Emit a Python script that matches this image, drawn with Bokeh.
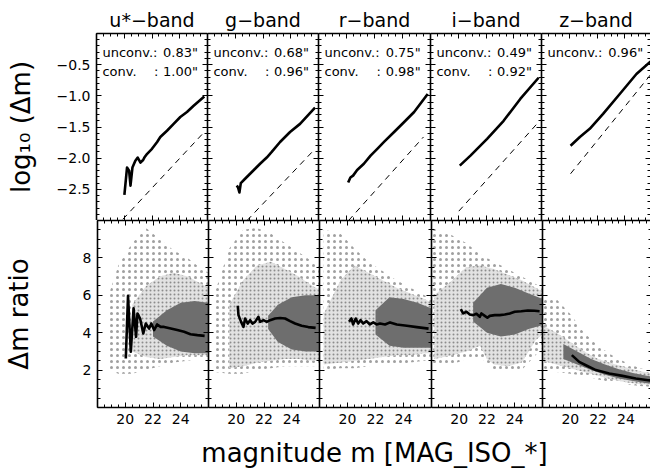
from bokeh.plotting import figure
from bokeh.models import FixedTicker, LinearAxis, Range1d, Label
from bokeh.layouts import column, row
from bokeh.embed import file_html
from bokeh.resources import INLINE

# ---------------- data ----------------
band_titles = ["u*−band", "g−band", "r−band", "i−band", "z−band"]
seeing_unconv = ['0.83"', '0.68"', '0.75"', '0.49"', '0.96"']
seeing_conv = ['1.00"', '0.96"', '0.98"', '0.92"', None]

# top row: log10(dm), solid (measured) and dashed (expected)
u_top_mag = [20.01, 20.2, 20.35, 20.45, 20.59, 20.8, 20.97, 21.17, 21.36, 21.45, 21.65, 22.0, 22.37, 22.6, 23.08, 23.56, 24.04, 24.52, 25.0, 25.77]
u_top_val = [-2.59, -2.15, -2.2, -2.44, -2.15, -2.04, -1.99, -2.07, -2.03, -1.99, -1.93, -1.85, -1.74, -1.66, -1.56, -1.45, -1.34, -1.26, -1.16, -1.01]
g_top_mag = [20.11, 20.2, 20.3, 20.4, 20.71, 21.07, 21.43, 21.79, 22.27, 22.63, 23.23, 23.95, 24.67, 25.75]
g_top_val = [-2.44, -2.47, -2.55, -2.4, -2.33, -2.25, -2.17, -2.09, -1.99, -1.9, -1.74, -1.58, -1.45, -1.19]
r_top_mag = [20.12, 20.28, 20.47, 20.76, 21.24, 21.72, 22.2, 22.68, 23.4, 24.12, 24.83, 25.8]
r_top_val = [-2.39, -2.31, -2.28, -2.19, -2.09, -1.96, -1.85, -1.74, -1.58, -1.42, -1.26, -0.97]
i_top_mag = [20.11, 20.88, 22.08, 23.27, 24.47, 25.79]
i_top_val = [-2.12, -1.96, -1.69, -1.40, -1.05, -0.71]
z_top_mag = [20.09, 20.76, 21.47, 22.43, 23.63, 24.83, 25.85]
z_top_val = [-1.80, -1.66, -1.53, -1.29, -0.97, -0.65, -0.45]

u_dash_mag = [19.9, 25.77]
u_dash_val = [-2.98, -1.58]
g_dash_mag = [20.85, 25.63]
g_dash_val = [-3.0, -1.88]
r_dash_mag = [20.15, 25.5]
r_dash_val = [-3.0, -1.66]
i_dash_mag = [20.04, 25.79]
i_dash_val = [-2.85, -1.42]
z_dash_mag = [20.09, 25.85]
z_dash_val = [-2.25, -0.66]

# bottom row: dm ratio, median line
u_bot_mag = [20.04, 20.2, 20.4, 20.6, 20.78, 20.88, 21.07, 21.3, 21.48, 21.72, 21.88, 22.08, 22.3, 22.55, 22.8, 23.28, 23.75, 24.24, 24.7, 25.2, 25.72]
u_bot_val = [2.62, 5.97, 2.98, 5.3, 3.78, 5.03, 4.76, 3.96, 4.49, 4.22, 4.49, 4.14, 4.44, 4.31, 4.31, 4.22, 4.14, 4.05, 3.92, 3.87, 3.83]
g_bot_mag = [20.11, 20.16, 20.35, 20.52, 20.64, 20.83, 21.0, 21.17, 21.36, 21.6, 21.72, 21.96, 22.2, 22.44, 22.8, 23.16, 23.52, 23.88, 24.24, 24.71, 25.19, 25.72]
g_bot_val = [5.44, 4.94, 4.58, 4.31, 4.76, 4.49, 4.67, 4.49, 4.58, 4.85, 4.58, 4.67, 4.58, 4.67, 4.76, 4.79, 4.76, 4.62, 4.49, 4.37, 4.3, 4.26]
r_bot_mag = [20.11, 20.28, 20.4, 20.59, 20.76, 20.93, 21.12, 21.36, 21.6, 21.84, 22.08, 22.32, 22.68, 23.04, 23.52, 24.24, 24.95, 25.79]
r_bot_val = [4.58, 4.76, 4.44, 4.76, 4.49, 4.67, 4.49, 4.62, 4.44, 4.55, 4.44, 4.49, 4.44, 4.55, 4.44, 4.37, 4.3, 4.22]
i_bot_mag = [20.11, 20.28, 20.52, 20.76, 21.0, 21.24, 21.48, 21.6, 21.84, 22.03, 22.2, 22.56, 22.92, 23.28, 23.64, 24.0, 24.47, 24.95, 25.43, 25.79]
i_bot_val = [5.26, 5.03, 5.12, 4.97, 4.94, 5.01, 4.85, 5.03, 4.9, 4.8, 4.9, 4.94, 4.94, 4.97, 5.03, 5.12, 5.15, 5.19, 5.17, 5.15]
z_bot_mag = [20.11, 20.64, 21.12, 21.84, 22.8, 23.76, 24.71, 25.84]
z_bot_val = [2.8, 2.44, 2.26, 2.0, 1.82, 1.69, 1.55, 1.43]

# bottom row: scatter cloud envelopes (sparse outer, medium, dense core)
u_outer_mag = [18.8, 19.5, 20.5, 21.5, 22.5, 23.5, 24.5, 25.5, 26.0]
u_outer_hi = [6.0, 7.6, 8.8, 9.6, 9.0, 8.4, 8.0, 7.4, 7.2]
u_outer_lo = [2.0, 1.8, 1.8, 2.0, 2.2, 2.4, 2.5, 2.6, 2.6]
u_mid_mag = [20.5, 21.5, 22.5, 23.5, 24.5, 25.5, 26.0]
u_mid_hi = [5.5, 6.5, 7.0, 7.2, 7.0, 6.6, 6.4]
u_mid_lo = [3.0, 2.7, 2.6, 2.7, 2.8, 2.8, 2.8]
u_core_mag = [22.0, 23.0, 24.0, 25.0, 26.0]
u_core_hi = [4.6, 5.2, 5.6, 5.7, 5.6]
u_core_lo = [3.8, 3.3, 3.0, 2.9, 2.9]

g_outer_mag = [18.4, 19.5, 20.5, 21.5, 22.5, 23.5, 24.5, 25.5, 26.0]
g_outer_hi = [6.0, 8.5, 9.5, 9.6, 9.3, 8.8, 8.3, 7.8, 7.5]
g_outer_lo = [1.9, 1.8, 1.8, 2.0, 2.1, 2.2, 2.2, 2.2, 2.2]
g_mid_mag = [19.5, 20.5, 21.5, 22.5, 23.5, 24.5, 25.5, 26.0]
g_mid_hi = [5.5, 6.8, 7.6, 7.8, 7.4, 7.0, 6.5, 6.3]
g_mid_lo = [2.1, 2.2, 2.4, 2.5, 2.6, 2.6, 2.5, 2.5]
g_core_mag = [22.3, 23.0, 24.0, 25.0, 26.0]
g_core_hi = [4.9, 5.5, 5.9, 6.0, 6.0]
g_core_lo = [4.2, 3.5, 3.1, 3.0, 3.0]

r_outer_mag = [18.3, 19.5, 20.5, 21.5, 22.5, 23.5, 24.5, 25.5, 26.0]
r_outer_hi = [9.5, 9.3, 8.5, 7.8, 7.3, 6.8, 6.4, 6.0, 5.8]
r_outer_lo = [2.0, 2.1, 2.1, 2.2, 2.3, 2.3, 2.4, 2.5, 2.5]
r_mid_mag = [18.3, 19.5, 20.5, 21.5, 22.5, 23.5, 24.5, 25.5, 26.0]
r_mid_hi = [5.0, 6.8, 7.6, 7.2, 6.8, 6.4, 6.1, 5.8, 5.6]
r_mid_lo = [2.3, 2.4, 2.5, 2.6, 2.7, 2.8, 2.8, 2.9, 2.9]
r_core_mag = [22.0, 23.0, 24.0, 25.0, 26.0]
r_core_hi = [5.2, 5.9, 5.8, 5.6, 5.3]
r_core_lo = [3.9, 3.3, 3.2, 3.2, 3.2]

i_outer_mag = [18.0, 19.5, 20.5, 21.5, 22.5, 23.5, 24.5, 25.5, 26.0]
i_outer_hi = [9.6, 9.2, 8.8, 8.2, 7.8, 7.4, 7.0, 6.6, 6.4]
i_outer_lo = [2.3, 2.3, 2.6, 2.7, 2.0, 1.9, 2.0, 2.8, 3.2]
i_mid_mag = [18.2, 19.5, 20.5, 21.5, 22.0, 22.5, 23.5, 24.5, 25.0, 25.5, 26.0]
i_mid_hi = [6.0, 6.8, 7.5, 7.6, 7.5, 7.4, 7.1, 6.8, 6.6, 6.4, 6.2]
i_mid_lo = [2.6, 2.8, 3.0, 3.3, 2.6, 2.3, 2.2, 2.4, 3.0, 3.6, 3.9]
i_core_mag = [21.0, 22.0, 23.0, 24.0, 25.0, 26.0]
i_core_hi = [5.6, 6.4, 6.6, 6.4, 6.1, 5.8]
i_core_lo = [4.6, 4.0, 3.8, 3.9, 4.2, 4.4]

z_outer_mag = [18.0, 19.0, 20.0, 21.0, 22.0, 23.0, 24.0, 25.0, 26.0]
z_outer_hi = [5.8, 5.8, 5.0, 4.0, 3.3, 2.8, 2.4, 2.1, 1.95]
z_outer_lo = [2.1, 1.9, 1.8, 1.7, 1.5, 1.35, 1.25, 1.15, 1.1]
z_mid_mag = [18.0, 19.0, 20.0, 21.0, 22.0, 23.0, 24.0, 25.0, 26.0]
z_mid_hi = [4.4, 4.0, 3.5, 3.0, 2.6, 2.35, 2.15, 1.95, 1.8]
z_mid_lo = [2.5, 2.3, 2.1, 1.9, 1.7, 1.5, 1.35, 1.25, 1.2]
z_core_mag = [19.5, 20.5, 21.5, 22.5, 23.5, 24.5, 25.5, 26.0]
z_core_hi = [3.4, 3.0, 2.6, 2.3, 2.05, 1.85, 1.7, 1.65]
z_core_lo = [2.6, 2.3, 2.0, 1.75, 1.55, 1.42, 1.3, 1.27]

x_ticks = [20, 22, 24]
top_y_ticks = [-2.5, -2.0, -1.5, -1.0, -0.5]
top_y_labels = ["−2.5", "−2.0", "−1.5", "−1.0", "−0.5"]
bot_y_ticks = [2, 4, 6, 8]

# ---------------- layout ----------------
top_lines = [(u_top_mag, u_top_val), (g_top_mag, g_top_val), (r_top_mag, r_top_val), (i_top_mag, i_top_val), (z_top_mag, z_top_val)]
top_dash = [(u_dash_mag, u_dash_val), (g_dash_mag, g_dash_val), (r_dash_mag, r_dash_val), (i_dash_mag, i_dash_val), (z_dash_mag, z_dash_val)]
bot_lines = [(u_bot_mag, u_bot_val), (g_bot_mag, g_bot_val), (r_bot_mag, r_bot_val), (i_bot_mag, i_bot_val), (z_bot_mag, z_bot_val)]
outer = [(u_outer_mag, u_outer_lo, u_outer_hi), (g_outer_mag, g_outer_lo, g_outer_hi), (r_outer_mag, r_outer_lo, r_outer_hi), (i_outer_mag, i_outer_lo, i_outer_hi), (z_outer_mag, z_outer_lo, z_outer_hi)]
mid = [(u_mid_mag, u_mid_lo, u_mid_hi), (g_mid_mag, g_mid_lo, g_mid_hi), (r_mid_mag, r_mid_lo, r_mid_hi), (i_mid_mag, i_mid_lo, i_mid_hi), (z_mid_mag, z_mid_lo, z_mid_hi)]
core = [(u_core_mag, u_core_lo, u_core_hi), (g_core_mag, g_core_lo, g_core_hi), (r_core_mag, r_core_lo, r_core_hi), (i_core_mag, i_core_lo, i_core_hi), (z_core_mag, z_core_lo, z_core_hi)]

FRAME_W = [111, 111, 112, 111, 109]
PX_PER_MAG = 13.9
FRAME_H = 187
TOP_BORDER = 33
BOTTOM_BORDER = 27
FONT = "DejaVu Sans"

X_MINOR = [18 + 0.5 * k for k in range(17)]


def style_axis(ax, draw_line=True):
    ax.axis_line_color = "black" if draw_line else None
    ax.axis_line_width = 1.6
    ax.major_tick_in = 5
    ax.major_tick_out = 0
    ax.minor_tick_in = 3
    ax.minor_tick_out = 0
    ax.major_tick_line_color = "black"
    ax.minor_tick_line_color = "black"


def tick_only(p, side, majors, minors, draw_line=True):
    # major-length ticks (drawn as minor ticks, so there are no label texts)
    a1 = LinearAxis(ticker=FixedTicker(ticks=[], minor_ticks=list(majors)))
    style_axis(a1, draw_line)
    a1.minor_tick_in = 5
    p.add_layout(a1, side)
    rest = [m for m in minors if all(abs(m - t) > 1e-6 for t in majors)]
    a2 = LinearAxis(ticker=FixedTicker(ticks=[], minor_ticks=rest))
    style_axis(a2, False)
    a2.minor_tick_in = 3
    p.add_layout(a2, side)


def labeled(p, side, majors, minors, overrides=None, standoff=6):
    ax = LinearAxis(ticker=FixedTicker(ticks=list(majors), minor_ticks=list(minors)))
    style_axis(ax, True)
    ax.major_label_text_font = FONT
    ax.major_label_text_font_size = "14px"
    ax.major_label_text_color = "black"
    ax.major_label_standoff = standoff
    if overrides:
        ax.major_label_overrides = overrides
    p.add_layout(ax, side)
    return ax


def make_panel(col, rowi):
    fw = FRAME_W[col]
    xmax = 18 + fw / PX_PER_MAG if col == 4 else 26
    yr = Range1d(-3, 0) if rowi == 0 else Range1d(0, 10)
    total_h = FRAME_H + (TOP_BORDER if rowi == 0 else BOTTOM_BORDER)
    p = figure(frame_width=fw, height=total_h, x_range=Range1d(18, xmax), y_range=yr,
               output_backend="svg", toolbar_location=None,
               x_axis_location=None, y_axis_location=None,
               min_border_left=96 if col == 0 else 0, min_border_right=0,
               min_border_top=TOP_BORDER if rowi == 0 else 0,
               min_border_bottom=BOTTOM_BORDER if rowi == 1 else 0,
               title=band_titles[col] if rowi == 0 else None)
    p.outline_line_color = None
    p.grid.visible = False
    p.background_fill_color = "white"
    p.border_fill_color = "white"
    last = col == 4
    if rowi == 0:
        p.title.text_font = FONT
        p.title.text_font_size = "19px"
        p.title.text_font_style = "normal"
        p.title.text_color = "black"
        p.title.align = "center"
        p.title.standoff = 5
        ymaj = top_y_ticks
        ymin = [round(-3 + 0.1 * k, 2) for k in range(31)]
    else:
        ymaj = bot_y_ticks
        ymin = [0.5 * k for k in range(21)]

    if rowi == 1:
        labeled(p, "below", x_ticks, X_MINOR, standoff=6)
    else:
        tick_only(p, "below", x_ticks, X_MINOR)
    tick_only(p, "above", x_ticks, X_MINOR)
    tick_only(p, "right", ymaj, ymin, draw_line=not last)
    if col == 0:
        if rowi == 0:
            ov = {t: s for t, s in zip(top_y_ticks, top_y_labels)}
            ax = labeled(p, "left", ymaj, ymin, overrides=ov)
            ax.axis_label = "log₁₀ (Δm)"
            ax.axis_label_standoff = 18
        else:
            ax = labeled(p, "left", ymaj, ymin)
            ax.axis_label = "Δm ratio"
            ax.axis_label_standoff = 46
        ax.axis_label_text_font = FONT
        ax.axis_label_text_font_size = "26px"
        ax.axis_label_text_font_style = "normal"
        ax.axis_label_text_color = "black"
    else:
        tick_only(p, "left", ymaj, ymin)

    if rowi == 0:
        xs, ys = top_dash[col]
        p.line(xs, ys, line_color="black", line_width=1, line_dash="6 5")
        xs, ys = top_lines[col]
        p.line(xs, ys, line_color="black", line_width=2.6, line_join="round")
        common = dict(text_font=FONT, text_font_size="13px", text_baseline="alphabetic", text_color="black")
        p.add_layout(Label(x=18.43, y=-0.305, text="unconv.:", **common))
        p.add_layout(Label(x=22.8, y=-0.305, text=seeing_unconv[col], **common))
        if seeing_conv[col] is not None:
            p.add_layout(Label(x=18.43, y=-0.605, text="conv.", **common))
            p.add_layout(Label(x=22.15, y=-0.605, text=":", **common))
            p.add_layout(Label(x=22.8, y=-0.605, text=seeing_conv[col], **common))
    else:
        m, lo, hi = outer[col]
        p.varea(x=m, y1=lo, y2=hi, fill_color=None, fill_alpha=0,
                hatch_pattern="dot", hatch_color="#a0a0a0", hatch_scale=6, hatch_weight=0.8)
        m, lo, hi = mid[col]
        p.varea(x=m, y1=lo, y2=hi, fill_color="#e2e2e2", fill_alpha=1,
                hatch_pattern="dot", hatch_color="#8c8c8c", hatch_scale=4, hatch_weight=0.8)
        m, lo, hi = core[col]
        p.varea(x=m, y1=lo, y2=hi, fill_color="#6e6e6e", fill_alpha=1)
        xs, ys = bot_lines[col]
        p.line(xs, ys, line_color="black", line_width=2.6, line_join="round")
    return p


top_row = row(*[make_panel(c, 0) for c in range(5)])
bot_row = row(*[make_panel(c, 1) for c in range(5)])

XT_H = 473 - (TOP_BORDER + FRAME_H) - (FRAME_H + BOTTOM_BORDER)
xt = figure(width=650, height=XT_H, x_range=Range1d(0, 650), y_range=Range1d(0, XT_H),
            output_backend="svg", toolbar_location=None, x_axis_location=None, y_axis_location=None,
            min_border=0, title=None)
xt.outline_line_color = None
xt.grid.visible = False
xt.add_layout(Label(x=374, y=21, text="magnitude m [MAG_ISO_*]", text_font=FONT, text_font_size="26px",
                    text_align="center", text_baseline="alphabetic", text_color="black"))

layout = column(top_row, bot_row, xt)
open("out.html", "w").write(file_html(layout, INLINE))
